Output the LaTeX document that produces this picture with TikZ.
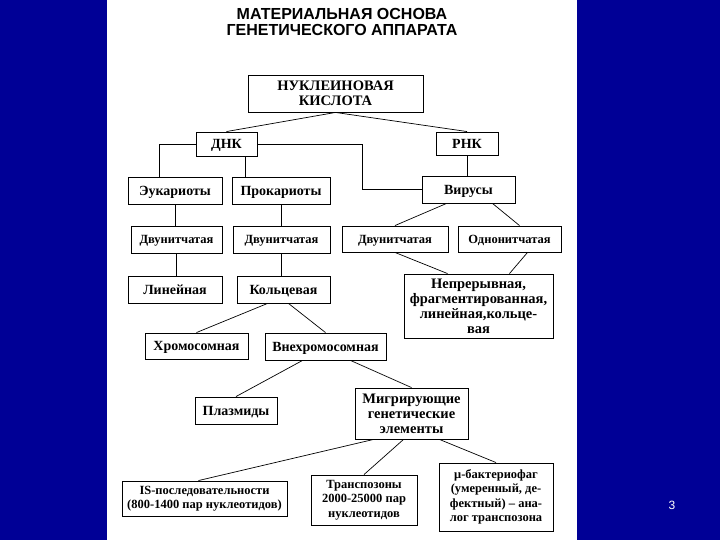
\documentclass[tikz,border=0pt]{standalone}
\usepackage{fontspec}
\setmainfont{Liberation Serif}
\newfontfamily\headfont{Liberation Sans}
\usetikzlibrary{positioning,calc}
\definecolor{slideblue}{RGB}{0,0,150}

\begin{document}
\begin{tikzpicture}[x=1pt,y=-1pt,
    box/.style={draw, line width=0.9pt, inner sep=1pt, text height=11pt, text depth=1.5pt,
                font=\fontsize{14}{15}\selectfont\bfseries},
    smallbox/.style={box, text height=10pt, text depth=1.5pt,
                font=\fontsize{12.5}{14}\selectfont\bfseries},
    multibox/.style={draw, line width=0.9pt, inner sep=1pt, align=center,
                font=\fontsize{14.5}{15}\selectfont\bfseries},
    smallmulti/.style={multibox, font=\fontsize{12.5}{14.5}\selectfont\bfseries},
    link/.style={line width=0.7pt}
  ]
    \fill[slideblue] (0,0) rectangle (720,540);
    \fill[white] (107,0) rectangle (577,540);

    \node[align=center, font=\headfont\bfseries\fontsize{16}{16}\selectfont] (title) at (342,22) {
      МАТЕРИАЛЬНАЯ ОСНОВА\\
      ГЕНЕТИЧЕСКОГО АППАРАТА
    };
    \node[text=white, font=\headfont\fontsize{12}{12}\selectfont] (pnum) at (672,505) {3};

    \node[multibox, minimum width=175, minimum height=37] (nk) at (335.5,93.5) {НУКЛЕИНОВАЯ\\КИСЛОТА};
    \node[box, minimum width=61, minimum height=24] (dnk) at (226.5,144) {ДНК};
    \node[box, minimum width=62, minimum height=23] (rnk) at (467,143.5) {РНК};
    \node[box, minimum width=94, minimum height=27] (euk) at (175,190.5) {Эукариоты};
    \node[box, minimum width=98, minimum height=27] (prok) at (281,190.5) {Прокариоты};
    \node[box, minimum width=93, minimum height=27] (vir) at (468.5,189.5) {Вирусы};
    \node[smallbox, minimum width=91, minimum height=27] (dv1) at (176.5,239.5) {Двунитчатая};
    \node[smallbox, minimum width=97, minimum height=27] (dv2) at (281.5,239.5) {Двунитчатая};
    \node[smallbox, minimum width=106, minimum height=26] (dv3) at (395,239) {Двунитчатая};
    \node[smallbox, minimum width=103, minimum height=26] (odn) at (509.5,239) {Однонитчатая};
    \node[box, minimum width=94, minimum height=27] (lin) at (175,289.5) {Линейная};
    \node[box, minimum width=93, minimum height=27] (kol) at (283.5,289.5) {Кольцевая};
    \node[multibox, minimum width=149, minimum height=64] (nepr) at (478.5,306) {Непрерывная,\\фрагментированная,\\линейная,кольце-\\вая};
    \node[box, minimum width=103, minimum height=26] (chrom) at (196.5,346) {Хромосомная};
    \node[box, minimum width=121, minimum height=27] (vnech) at (325.5,346.5) {Внехромосомная};
    \node[box, minimum width=82, minimum height=27] (plaz) at (236,410.5) {Плазмиды};
    \node[multibox, minimum width=113, minimum height=51] (migr) at (411.5,413.5) {Мигрирующие\\генетические\\элементы};
    \node[smallmulti, minimum width=165, minimum height=35] (is) at (204.5,498.5) {IS-последовательности\\(800-1400 пар нуклеотидов)};
    \node[smallmulti, minimum width=106, minimum height=50] (trans) at (364,500) {Транспозоны\\2000-25000 пар\\нуклеотидов};
    \node[smallmulti, minimum width=114, minimum height=68] (phage) at (496,497) {μ-бактериофаг\\(умеренный, де-\\фектный) – ана-\\лог транспозона};

    \draw[link] (nk.south) -- (dnk.north);
    \draw[link] (nk.south) -- (rnk.north);
    \draw[link] (dnk.west) -| ([xshift=32pt]euk.north west);
    \draw[link] ([xshift=-12pt]dnk.south east) -- ([xshift=-12pt]dnk.south east |- prok.north);
    \draw[link] (dnk.east) -- ++(105,0) |- (vir.west);
    \draw[link] (rnk.south) -- (rnk.south |- vir.north);
    \draw[link] (euk.south) -- (euk.south |- dv1.north);
    \draw[link] (prok.south) -- (prok.south |- dv2.north);
    \draw[link] (dv1.south) -- (dv1.south |- lin.north);
    \draw[link] (dv2.south) -- (dv2.south |- kol.north);
    \draw[link] ([xshift=-22pt]vir.south) -- (dv3.north);
    \draw[link] ([xshift=24pt]vir.south) -- ([xshift=10pt]odn.north);
    \draw[link] (dv3.south) -- ([xshift=-31pt]nepr.north);
    \draw[link] ([xshift=18pt]odn.south) -- ([xshift=31pt]nepr.north);
    \draw[link] ([xshift=-16pt]kol.south) -- (chrom.north);
    \draw[link] ([xshift=5pt]kol.south) -- (vnech.north);
    \draw[link] ([xshift=-23pt]vnech.south) -- (plaz.north);
    \draw[link] ([xshift=25pt]vnech.south) -- (migr.north);
    \draw[link] ([xshift=-38pt]migr.south) -- ([xshift=-6pt]is.north);
    \draw[link] ([xshift=-8pt]migr.south) -- (trans.north);
    \draw[link] ([xshift=28pt]migr.south) -- (phage.north);
  \end{tikzpicture}
\end{document}
